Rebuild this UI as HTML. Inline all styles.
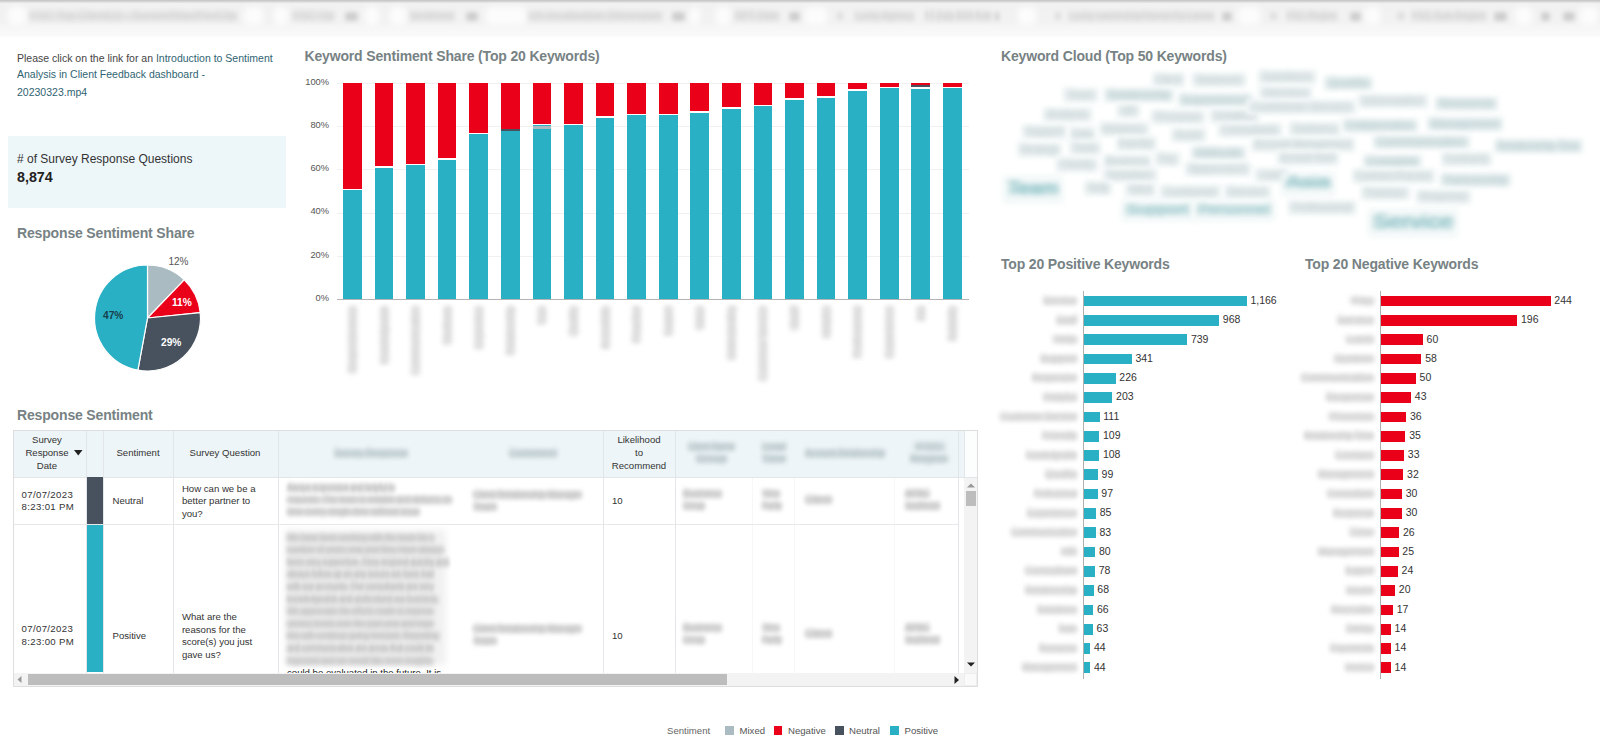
<!DOCTYPE html>
<html><head><meta charset="utf-8"><title>Sentiment Analysis Dashboard</title>
<style>
*{box-sizing:border-box;margin:0;padding:0}
html,body{width:1600px;height:744px;overflow:hidden;background:#fff;font-family:"Liberation Sans",sans-serif;color:#333}
.ab{position:absolute}
.t{position:absolute;white-space:nowrap;line-height:1}
.title{position:absolute;white-space:nowrap;font-weight:bold;font-size:14px;letter-spacing:-0.16px;color:#778284;line-height:1}
</style></head><body>

<div class="ab" style="left:0;top:0;width:1600px;height:36px;background:linear-gradient(#f1f1f1 0,#f2f2f2 22px,#f6f6f6 27px,#f8f8f8 31px,#f9f9f9 36px)"></div>
<div class="ab" style="left:0;top:0;width:1600px;height:3px;background:linear-gradient(#c2c2c2,#e9e9e9)"></div>
<div class="ab" style="left:0;top:36px;width:1600px;height:2px;background:linear-gradient(#fcfcfc,#fff)"></div>
<div class="ab" style="left:8px;top:7px;width:18px;height:18px;background:#fcfcfc;border-radius:4px;filter:blur(3px)"></div>
<div class="ab" style="left:244px;top:7px;width:19px;height:18px;background:#fcfcfc;border-radius:4px;filter:blur(3px)"></div>
<div class="ab" style="left:274px;top:7px;width:14px;height:18px;background:#fcfcfc;border-radius:4px;filter:blur(3px)"></div>
<div class="ab" style="left:365px;top:7px;width:14px;height:18px;background:#fcfcfc;border-radius:4px;filter:blur(3px)"></div>
<div class="ab" style="left:390px;top:7px;width:16px;height:18px;background:#fcfcfc;border-radius:4px;filter:blur(3px)"></div>
<div class="ab" style="left:486px;top:7px;width:40px;height:18px;background:#fcfcfc;border-radius:4px;filter:blur(3px)"></div>
<div class="ab" style="left:690px;top:7px;width:10px;height:18px;background:#fcfcfc;border-radius:4px;filter:blur(3px)"></div>
<div class="ab" style="left:716px;top:7px;width:14px;height:18px;background:#fcfcfc;border-radius:4px;filter:blur(3px)"></div>
<div class="ab" style="left:805px;top:7px;width:22px;height:18px;background:#fcfcfc;border-radius:4px;filter:blur(3px)"></div>
<div class="ab" style="left:1018px;top:7px;width:18px;height:18px;background:#fcfcfc;border-radius:4px;filter:blur(3px)"></div>
<div class="ab" style="left:1238px;top:7px;width:22px;height:18px;background:#fcfcfc;border-radius:4px;filter:blur(3px)"></div>
<div class="ab" style="left:1365px;top:7px;width:15px;height:18px;background:#fcfcfc;border-radius:4px;filter:blur(3px)"></div>
<div class="ab" style="left:1515px;top:7px;width:17px;height:18px;background:#fcfcfc;border-radius:4px;filter:blur(3px)"></div>
<div class="ab" style="left:1580px;top:7px;width:18px;height:18px;background:#fcfcfc;border-radius:4px;filter:blur(3px)"></div>
<div class="ab" style="left:30.0px;top:12.0px;width:207.0px;height:9px;background:#e5e5e5;border-radius:3px;filter:blur(2.2px)"></div>
<div class="t" style="left:30.0px;top:10.4px;font-size:11px;color:#cdcdcd;filter:blur(2.4px);transform:scaleX(1.059);transform-origin:0 0">FSC Top Client(s) - Sunset/Max/Pin/Clip</div>
<div class="ab" style="left:293.0px;top:12.0px;width:41.0px;height:9px;background:#e5e5e5;border-radius:3px;filter:blur(2.2px)"></div>
<div class="t" style="left:293.0px;top:10.4px;font-size:11px;color:#cdcdcd;filter:blur(2.4px);transform:scaleX(1.032);transform-origin:0 0">FSC Op</div>
<div class="ab" style="left:410.0px;top:12.0px;width:44.0px;height:9px;background:#e5e5e5;border-radius:3px;filter:blur(2.2px)"></div>
<div class="t" style="left:410.0px;top:10.4px;font-size:11px;color:#cdcdcd;filter:blur(2.4px);transform:scaleX(0.888);transform-origin:0 0">Sentiment</div>
<div class="ab" style="left:529.0px;top:12.0px;width:133.0px;height:9px;background:#e5e5e5;border-radius:3px;filter:blur(2.2px)"></div>
<div class="t" style="left:529.0px;top:10.4px;font-size:11px;color:#cdcdcd;filter:blur(2.4px);transform:scaleX(1.046);transform-origin:0 0">Un-localisation Dimension</div>
<div class="ab" style="left:735.0px;top:12.0px;width:44.0px;height:9px;background:#e5e5e5;border-radius:3px;filter:blur(2.2px)"></div>
<div class="t" style="left:735.0px;top:10.4px;font-size:11px;color:#cdcdcd;filter:blur(2.4px);transform:scaleX(0.915);transform-origin:0 0">RPT Date</div>
<div class="ab" style="left:855.0px;top:12.0px;width:59.0px;height:9px;background:#e5e5e5;border-radius:3px;filter:blur(2.2px)"></div>
<div class="t" style="left:855.0px;top:10.4px;font-size:11px;color:#cdcdcd;filter:blur(2.4px);transform:scaleX(0.869);transform-origin:0 0">Lucky Agency</div>
<div class="ab" style="left:925.0px;top:12.0px;width:67.0px;height:9px;background:#e5e5e5;border-radius:3px;filter:blur(2.2px)"></div>
<div class="t" style="left:925.0px;top:10.4px;font-size:11px;color:#cdcdcd;filter:blur(2.4px);transform:scaleX(0.718);transform-origin:0 0">FT Daily BRR Rate</div>
<div class="ab" style="left:1069.0px;top:12.0px;width:145.0px;height:9px;background:#e5e5e5;border-radius:3px;filter:blur(2.2px)"></div>
<div class="t" style="left:1069.0px;top:10.4px;font-size:11px;color:#cdcdcd;filter:blur(2.4px);transform:scaleX(0.875);transform-origin:0 0">Lucky ownership/Hierarchy-Lanes</div>
<div class="ab" style="left:1287.0px;top:12.0px;width:50.0px;height:9px;background:#e5e5e5;border-radius:3px;filter:blur(2.2px)"></div>
<div class="t" style="left:1287.0px;top:10.4px;font-size:11px;color:#cdcdcd;filter:blur(2.4px);transform:scaleX(0.835);transform-origin:0 0">FSC Region</div>
<div class="ab" style="left:1412.0px;top:12.0px;width:74.0px;height:9px;background:#e5e5e5;border-radius:3px;filter:blur(2.2px)"></div>
<div class="t" style="left:1412.0px;top:10.4px;font-size:11px;color:#cdcdcd;filter:blur(2.4px);transform:scaleX(0.890);transform-origin:0 0">FSC Sub-Region</div>
<div class="ab" style="left:345px;top:11.5px;width:13px;height:9px;background:#cecece;border-radius:4px;filter:blur(2.2px)"></div>
<div class="ab" style="left:466px;top:11.5px;width:12px;height:9px;background:#cecece;border-radius:4px;filter:blur(2.2px)"></div>
<div class="ab" style="left:672px;top:11.5px;width:13px;height:9px;background:#cecece;border-radius:4px;filter:blur(2.2px)"></div>
<div class="ab" style="left:789px;top:11.5px;width:11px;height:9px;background:#cecece;border-radius:4px;filter:blur(2.2px)"></div>
<div class="ab" style="left:995px;top:11.5px;width:4px;height:9px;background:#cecece;border-radius:4px;filter:blur(2.2px)"></div>
<div class="ab" style="left:1222px;top:11.5px;width:10px;height:9px;background:#cecece;border-radius:4px;filter:blur(2.2px)"></div>
<div class="ab" style="left:1350px;top:11.5px;width:11px;height:9px;background:#cecece;border-radius:4px;filter:blur(2.2px)"></div>
<div class="ab" style="left:1494px;top:11.5px;width:13px;height:9px;background:#cecece;border-radius:4px;filter:blur(2.2px)"></div>
<div class="ab" style="left:1541px;top:11.5px;width:9px;height:9px;background:#cecece;border-radius:4px;filter:blur(2.2px)"></div>
<div class="ab" style="left:1563px;top:11.5px;width:12px;height:9px;background:#cecece;border-radius:4px;filter:blur(2.2px)"></div>
<div class="ab" style="left:837px;top:12px;width:6px;height:8px;background:#dedede;border-radius:4px;filter:blur(2px)"></div>
<div class="ab" style="left:1055px;top:12px;width:6px;height:8px;background:#dedede;border-radius:4px;filter:blur(2px)"></div>
<div class="ab" style="left:1270px;top:12px;width:7px;height:8px;background:#dedede;border-radius:4px;filter:blur(2px)"></div>
<div class="ab" style="left:1397px;top:12px;width:8px;height:8px;background:#dedede;border-radius:4px;filter:blur(2px)"></div>
<div class="t" style="left:17px;top:53.4px;font-size:10.5px;color:#444">Please click on the link for an <span style="color:#2f6472">Introduction to Sentiment</span></div>
<div class="t" style="left:17px;top:69.3px;font-size:10.5px;color:#2f6472">Analysis in Client Feedback dashboard -</div>
<div class="t" style="left:17px;top:86.6px;font-size:10.5px;color:#2f6472">20230323.mp4</div>
<div class="ab" style="left:8px;top:136px;width:278px;height:72px;background:#edf6f9"></div>
<div class="t" style="left:17px;top:152.5px;font-size:12px;color:#333"># of Survey Response Questions</div>
<div class="t" style="left:17px;top:169.5px;font-size:14.3px;font-weight:bold;color:#222">8,874</div>
<div class="title" style="left:17px;top:225.8px">Response Sentiment Share</div>
<svg class="ab" style="left:0;top:0" width="300" height="400" viewBox="0 0 300 400"><path d="M147.5,318 L147.50,265.00 A53,53 0 0 1 184.26,279.82 Z" fill="#aabcc1" stroke="#fff" stroke-width="1.2"/><path d="M147.5,318 L184.26,279.82 A53,53 0 0 1 200.23,312.68 Z" fill="#ea0019" stroke="#fff" stroke-width="1.2"/><path d="M147.5,318 L200.23,312.68 A53,53 0 0 1 137.90,370.12 Z" fill="#47525e" stroke="#fff" stroke-width="1.2"/><path d="M147.5,318 L137.90,370.12 A53,53 0 0 1 147.50,265.00 Z" fill="#2ab0c4" stroke="#fff" stroke-width="1.2"/></svg>
<div class="t" style="left:168.5px;top:257.2px;font-size:10px;color:#555">12%</div>
<div class="t" style="left:172px;top:298.4px;font-size:10.2px;color:#fff;font-weight:bold">11%</div>
<div class="t" style="left:103px;top:311px;font-size:10.2px;color:#173f4c;font-weight:bold">47%</div>
<div class="t" style="left:161px;top:338.2px;font-size:10.2px;color:#fff;font-weight:bold">29%</div>
<div class="title" style="left:304.5px;top:49px">Keyword Sentiment Share (Top 20 Keywords)</div>
<div class="t" style="left:289px;width:40px;text-align:right;top:293.8px;font-size:9.3px;color:#555">0%</div>
<div class="t" style="left:289px;width:40px;text-align:right;top:250.6px;font-size:9.3px;color:#555">20%</div>
<div class="ab" style="left:337px;top:255.8px;width:632px;height:1px;background:#f0f0f0"></div>
<div class="t" style="left:289px;width:40px;text-align:right;top:207.4px;font-size:9.3px;color:#555">40%</div>
<div class="ab" style="left:337px;top:212.6px;width:632px;height:1px;background:#f0f0f0"></div>
<div class="t" style="left:289px;width:40px;text-align:right;top:164.2px;font-size:9.3px;color:#555">60%</div>
<div class="ab" style="left:337px;top:169.4px;width:632px;height:1px;background:#f0f0f0"></div>
<div class="t" style="left:289px;width:40px;text-align:right;top:121.0px;font-size:9.3px;color:#555">80%</div>
<div class="ab" style="left:337px;top:126.2px;width:632px;height:1px;background:#f0f0f0"></div>
<div class="t" style="left:289px;width:40px;text-align:right;top:77.8px;font-size:9.3px;color:#555">100%</div>
<div class="ab" style="left:337px;top:83.0px;width:632px;height:1px;background:#f0f0f0"></div>
<div class="ab" style="left:343.0px;top:83px;width:18.8px;height:105.8px;background:#ea0019"></div>
<div class="ab" style="left:343.0px;top:190.2px;width:18.8px;height:108.8px;background:#2ab0c4"></div>
<div class="ab" style="left:374.6px;top:83px;width:18.8px;height:83.3px;background:#ea0019"></div>
<div class="ab" style="left:374.6px;top:167.7px;width:18.8px;height:131.3px;background:#2ab0c4"></div>
<div class="ab" style="left:406.2px;top:83px;width:18.8px;height:81.0px;background:#ea0019"></div>
<div class="ab" style="left:406.2px;top:165.4px;width:18.8px;height:133.6px;background:#2ab0c4"></div>
<div class="ab" style="left:437.7px;top:83px;width:18.8px;height:75.3px;background:#ea0019"></div>
<div class="ab" style="left:437.7px;top:159.7px;width:18.8px;height:139.3px;background:#2ab0c4"></div>
<div class="ab" style="left:469.3px;top:83px;width:18.8px;height:49.8px;background:#ea0019"></div>
<div class="ab" style="left:469.3px;top:134.2px;width:18.8px;height:164.8px;background:#2ab0c4"></div>
<div class="ab" style="left:500.9px;top:83px;width:18.8px;height:45.8px;background:#ea0019"></div>
<div class="ab" style="left:500.9px;top:130.2px;width:18.8px;height:168.8px;background:#2ab0c4"></div>
<div class="ab" style="left:532.5px;top:83px;width:18.8px;height:41.0px;background:#ea0019"></div>
<div class="ab" style="left:532.5px;top:125.4px;width:18.8px;height:173.6px;background:#2ab0c4"></div>
<div class="ab" style="left:564.1px;top:83px;width:18.8px;height:40.8px;background:#ea0019"></div>
<div class="ab" style="left:564.1px;top:125.2px;width:18.8px;height:173.8px;background:#2ab0c4"></div>
<div class="ab" style="left:595.6px;top:83px;width:18.8px;height:33.3px;background:#ea0019"></div>
<div class="ab" style="left:595.6px;top:117.7px;width:18.8px;height:181.3px;background:#2ab0c4"></div>
<div class="ab" style="left:627.2px;top:83px;width:18.8px;height:30.8px;background:#ea0019"></div>
<div class="ab" style="left:627.2px;top:115.2px;width:18.8px;height:183.8px;background:#2ab0c4"></div>
<div class="ab" style="left:658.8px;top:83px;width:18.8px;height:30.7px;background:#ea0019"></div>
<div class="ab" style="left:658.8px;top:115.1px;width:18.8px;height:183.9px;background:#2ab0c4"></div>
<div class="ab" style="left:690.4px;top:83px;width:18.8px;height:28.1px;background:#ea0019"></div>
<div class="ab" style="left:690.4px;top:112.5px;width:18.8px;height:186.5px;background:#2ab0c4"></div>
<div class="ab" style="left:722.0px;top:83px;width:18.8px;height:24.2px;background:#ea0019"></div>
<div class="ab" style="left:722.0px;top:108.6px;width:18.8px;height:190.4px;background:#2ab0c4"></div>
<div class="ab" style="left:753.5px;top:83px;width:18.8px;height:21.6px;background:#ea0019"></div>
<div class="ab" style="left:753.5px;top:106.0px;width:18.8px;height:193.0px;background:#2ab0c4"></div>
<div class="ab" style="left:785.1px;top:83px;width:18.8px;height:15.1px;background:#ea0019"></div>
<div class="ab" style="left:785.1px;top:99.5px;width:18.8px;height:199.5px;background:#2ab0c4"></div>
<div class="ab" style="left:816.7px;top:83px;width:18.8px;height:13.3px;background:#ea0019"></div>
<div class="ab" style="left:816.7px;top:97.7px;width:18.8px;height:201.3px;background:#2ab0c4"></div>
<div class="ab" style="left:848.3px;top:83px;width:18.8px;height:6.3px;background:#ea0019"></div>
<div class="ab" style="left:848.3px;top:90.7px;width:18.8px;height:208.3px;background:#2ab0c4"></div>
<div class="ab" style="left:879.9px;top:83px;width:18.8px;height:3.5px;background:#ea0019"></div>
<div class="ab" style="left:879.9px;top:87.9px;width:18.8px;height:211.1px;background:#2ab0c4"></div>
<div class="ab" style="left:911.4px;top:83px;width:18.8px;height:4.3px;background:#ea0019"></div>
<div class="ab" style="left:911.4px;top:88.7px;width:18.8px;height:210.3px;background:#2ab0c4"></div>
<div class="ab" style="left:943.0px;top:83px;width:18.8px;height:3.5px;background:#ea0019"></div>
<div class="ab" style="left:943.0px;top:87.9px;width:18.8px;height:211.1px;background:#2ab0c4"></div>
<div class="ab" style="left:532.5px;top:125.6px;width:18.8px;height:3px;background:#aabcc1"></div>
<div class="ab" style="left:911.4px;top:85.2px;width:18.8px;height:2.2px;background:#47525e"></div>
<div class="ab" style="left:500.9px;top:129.4px;width:18.8px;height:1.3px;background:#47525e"></div>
<div class="ab" style="left:337px;top:298.5px;width:632px;height:1px;background:#b4b4b4"></div>
<div class="ab" style="left:347.9px;top:306px;width:9px;height:67px;background:#e7e7e7;border-radius:3px;filter:blur(2.6px)"></div>
<div class="t" style="left:347.1px;top:373.0px;font-size:10.5px;color:#cbcbcb;filter:blur(2.8px);transform-origin:0 0;transform:rotate(-90deg) scaleX(0.870)">Responsiveness</div>
<div class="ab" style="left:379.5px;top:306px;width:9px;height:58px;background:#e7e7e7;border-radius:3px;filter:blur(2.6px)"></div>
<div class="t" style="left:378.7px;top:364.0px;font-size:10.5px;color:#cbcbcb;filter:blur(2.8px);transform-origin:0 0;transform:rotate(-90deg) scaleX(0.808)">Knowledgeable</div>
<div class="ab" style="left:411.1px;top:306px;width:9px;height:69px;background:#e7e7e7;border-radius:3px;filter:blur(2.6px)"></div>
<div class="t" style="left:410.3px;top:375.0px;font-size:10.5px;color:#cbcbcb;filter:blur(2.8px);transform-origin:0 0;transform:rotate(-90deg) scaleX(0.946)">Communication</div>
<div class="ab" style="left:442.6px;top:306px;width:9px;height:39px;background:#e7e7e7;border-radius:3px;filter:blur(2.6px)"></div>
<div class="t" style="left:441.9px;top:345.0px;font-size:10.5px;color:#cbcbcb;filter:blur(2.8px);transform-origin:0 0;transform:rotate(-90deg) scaleX(0.783)">Timeliness</div>
<div class="ab" style="left:474.2px;top:306px;width:9px;height:43px;background:#e7e7e7;border-radius:3px;filter:blur(2.6px)"></div>
<div class="t" style="left:473.5px;top:349.0px;font-size:10.5px;color:#cbcbcb;filter:blur(2.8px);transform-origin:0 0;transform:rotate(-90deg) scaleX(0.982)">Expertise</div>
<div class="ab" style="left:505.8px;top:306px;width:9px;height:49px;background:#e7e7e7;border-radius:3px;filter:blur(2.6px)"></div>
<div class="t" style="left:505.0px;top:355.0px;font-size:10.5px;color:#cbcbcb;filter:blur(2.8px);transform-origin:0 0;transform:rotate(-90deg) scaleX(0.848)">Relationship</div>
<div class="ab" style="left:537.4px;top:306px;width:9px;height:19px;background:#e7e7e7;border-radius:3px;filter:blur(2.6px)"></div>
<div class="t" style="left:536.6px;top:325.0px;font-size:10.5px;color:#cbcbcb;filter:blur(2.8px);transform-origin:0 0;transform:rotate(-90deg) scaleX(0.740)">Team</div>
<div class="ab" style="left:569.0px;top:306px;width:9px;height:30px;background:#e7e7e7;border-radius:3px;filter:blur(2.6px)"></div>
<div class="t" style="left:568.2px;top:336.0px;font-size:10.5px;color:#cbcbcb;filter:blur(2.8px);transform-origin:0 0;transform:rotate(-90deg) scaleX(0.918)">Quality</div>
<div class="ab" style="left:600.5px;top:306px;width:9px;height:43px;background:#e7e7e7;border-radius:3px;filter:blur(2.6px)"></div>
<div class="t" style="left:599.8px;top:349.0px;font-size:10.5px;color:#cbcbcb;filter:blur(2.8px);transform-origin:0 0;transform:rotate(-90deg) scaleX(0.752)">Accessibility</div>
<div class="ab" style="left:632.1px;top:306px;width:9px;height:37px;background:#e7e7e7;border-radius:3px;filter:blur(2.6px)"></div>
<div class="t" style="left:631.4px;top:343.0px;font-size:10.5px;color:#cbcbcb;filter:blur(2.8px);transform-origin:0 0;transform:rotate(-90deg) scaleX(0.845)">Proactive</div>
<div class="ab" style="left:663.7px;top:306px;width:9px;height:30px;background:#e7e7e7;border-radius:3px;filter:blur(2.6px)"></div>
<div class="t" style="left:662.9px;top:336.0px;font-size:10.5px;color:#cbcbcb;filter:blur(2.8px);transform-origin:0 0;transform:rotate(-90deg) scaleX(0.816)">Support</div>
<div class="ab" style="left:695.3px;top:306px;width:9px;height:24px;background:#e7e7e7;border-radius:3px;filter:blur(2.6px)"></div>
<div class="t" style="left:694.5px;top:330.0px;font-size:10.5px;color:#cbcbcb;filter:blur(2.8px);transform-origin:0 0;transform:rotate(-90deg) scaleX(0.920)">Value</div>
<div class="ab" style="left:726.9px;top:306px;width:9px;height:54px;background:#e7e7e7;border-radius:3px;filter:blur(2.6px)"></div>
<div class="t" style="left:726.1px;top:360.0px;font-size:10.5px;color:#cbcbcb;filter:blur(2.8px);transform-origin:0 0;transform:rotate(-90deg) scaleX(0.791)">Understanding</div>
<div class="ab" style="left:758.4px;top:306px;width:9px;height:75px;background:#e7e7e7;border-radius:3px;filter:blur(2.6px)"></div>
<div class="t" style="left:757.7px;top:381.0px;font-size:10.5px;color:#cbcbcb;filter:blur(2.8px);transform-origin:0 0;transform:rotate(-90deg) scaleX(0.899)">Customer Service</div>
<div class="ab" style="left:790.0px;top:306px;width:9px;height:24px;background:#e7e7e7;border-radius:3px;filter:blur(2.6px)"></div>
<div class="t" style="left:789.3px;top:330.0px;font-size:10.5px;color:#cbcbcb;filter:blur(2.8px);transform-origin:0 0;transform:rotate(-90deg) scaleX(1.121)">Staff</div>
<div class="ab" style="left:821.6px;top:306px;width:9px;height:32px;background:#e7e7e7;border-radius:3px;filter:blur(2.6px)"></div>
<div class="t" style="left:820.9px;top:338.0px;font-size:10.5px;color:#cbcbcb;filter:blur(2.8px);transform-origin:0 0;transform:rotate(-90deg) scaleX(0.979)">Helpful</div>
<div class="ab" style="left:853.2px;top:306px;width:9px;height:52px;background:#e7e7e7;border-radius:3px;filter:blur(2.6px)"></div>
<div class="t" style="left:852.4px;top:358.0px;font-size:10.5px;color:#cbcbcb;filter:blur(2.8px);transform-origin:0 0;transform:rotate(-90deg) scaleX(0.900)">Professional</div>
<div class="ab" style="left:884.8px;top:306px;width:9px;height:52px;background:#e7e7e7;border-radius:3px;filter:blur(2.6px)"></div>
<div class="t" style="left:884.0px;top:358.0px;font-size:10.5px;color:#cbcbcb;filter:blur(2.8px);transform-origin:0 0;transform:rotate(-90deg) scaleX(0.990)">Experience</div>
<div class="ab" style="left:916.3px;top:306px;width:9px;height:15px;background:#e7e7e7;border-radius:3px;filter:blur(2.6px)"></div>
<div class="t" style="left:915.6px;top:321.0px;font-size:10.5px;color:#cbcbcb;filter:blur(2.8px);transform-origin:0 0;transform:rotate(-90deg) scaleX(0.734)">Asia</div>
<div class="ab" style="left:947.9px;top:306px;width:9px;height:35px;background:#e7e7e7;border-radius:3px;filter:blur(2.6px)"></div>
<div class="t" style="left:947.2px;top:341.0px;font-size:10.5px;color:#cbcbcb;filter:blur(2.8px);transform-origin:0 0;transform:rotate(-90deg) scaleX(0.779)">Reliability</div>
<div class="title" style="left:1001px;top:49px">Keyword Cloud (Top 50 Keywords)</div>
<div class="ab" style="left:1151px;top:71.5px;width:35px;height:16px;background:#f4f8f8;filter:blur(2.5px)"></div>
<div class="ab" style="left:1155.0px;top:75.0px;width:27.0px;height:9px;background:#e4ebec;border-radius:3px;filter:blur(2.4px)"></div>
<div class="t" style="left:1155.0px;top:73.5px;font-size:11px;color:#bccbcd;filter:blur(3.0px);transform:scaleX(0.960);transform-origin:0 0">Client</div>
<div class="ab" style="left:1191px;top:72.0px;width:56px;height:16px;background:#f4f8f8;filter:blur(2.5px)"></div>
<div class="ab" style="left:1195.0px;top:75.5px;width:48.0px;height:9px;background:#e4ebec;border-radius:3px;filter:blur(2.4px)"></div>
<div class="t" style="left:1195.0px;top:74.0px;font-size:11px;color:#bccbcd;filter:blur(3.0px);transform:scaleX(1.190);transform-origin:0 0">Network</div>
<div class="ab" style="left:1257px;top:69.0px;width:60px;height:16px;background:#f4f8f8;filter:blur(2.5px)"></div>
<div class="ab" style="left:1261.0px;top:72.5px;width:52.0px;height:9px;background:#e4ebec;border-radius:3px;filter:blur(2.4px)"></div>
<div class="t" style="left:1261.0px;top:71.0px;font-size:11px;color:#bccbcd;filter:blur(3.0px);transform:scaleX(1.149);transform-origin:0 0">Solutions</div>
<div class="ab" style="left:1323px;top:75.0px;width:51px;height:16px;background:#f4f8f8;filter:blur(2.5px)"></div>
<div class="ab" style="left:1327.0px;top:78.5px;width:43.0px;height:9px;background:#dce7e9;border-radius:3px;filter:blur(2.4px)"></div>
<div class="t" style="left:1327.0px;top:77.0px;font-size:11px;color:#afc6c9;filter:blur(3.0px);transform:scaleX(1.256);transform-origin:0 0">Quality</div>
<div class="ab" style="left:1062px;top:87.0px;width:37px;height:16px;background:#f4f8f8;filter:blur(2.5px)"></div>
<div class="ab" style="left:1066.0px;top:90.5px;width:29.0px;height:9px;background:#e4ebec;border-radius:3px;filter:blur(2.4px)"></div>
<div class="t" style="left:1066.0px;top:89.0px;font-size:11px;color:#bccbcd;filter:blur(3.0px);transform:scaleX(1.078);transform-origin:0 0">Team</div>
<div class="ab" style="left:1103px;top:87.0px;width:72px;height:16px;background:#f4f8f8;filter:blur(2.5px)"></div>
<div class="ab" style="left:1107.0px;top:90.5px;width:64.0px;height:9px;background:#dce7e9;border-radius:3px;filter:blur(2.4px)"></div>
<div class="t" style="left:1107.0px;top:89.0px;font-size:11px;color:#afc6c9;filter:blur(3.0px);transform:scaleX(1.057);transform-origin:0 0">Relationship</div>
<div class="ab" style="left:1177px;top:92.0px;width:77px;height:16px;background:#f4f8f8;filter:blur(2.5px)"></div>
<div class="ab" style="left:1181.0px;top:95.5px;width:69.0px;height:9px;background:#dce7e9;border-radius:3px;filter:blur(2.4px)"></div>
<div class="t" style="left:1181.0px;top:94.0px;font-size:11px;color:#afc6c9;filter:blur(3.0px);transform:scaleX(1.254);transform-origin:0 0">Experience</div>
<div class="ab" style="left:1258px;top:85.0px;width:55px;height:16px;background:#f4f8f8;filter:blur(2.5px)"></div>
<div class="ab" style="left:1262.0px;top:88.5px;width:47.0px;height:9px;background:#e4ebec;border-radius:3px;filter:blur(2.4px)"></div>
<div class="t" style="left:1262.0px;top:87.0px;font-size:11px;color:#bccbcd;filter:blur(3.0px);transform:scaleX(1.281);transform-origin:0 0">Service</div>
<div class="ab" style="left:1042px;top:106.6px;width:51px;height:16px;background:#f4f8f8;filter:blur(2.5px)"></div>
<div class="ab" style="left:1046.0px;top:110.1px;width:43.0px;height:9px;background:#e4ebec;border-radius:3px;filter:blur(2.4px)"></div>
<div class="t" style="left:1046.0px;top:108.5px;font-size:11px;color:#bccbcd;filter:blur(3.0px);transform:scaleX(1.050);transform-origin:0 0">Analysis</div>
<div class="ab" style="left:1116px;top:103.0px;width:25px;height:16px;background:#f4f8f8;filter:blur(2.5px)"></div>
<div class="ab" style="left:1120.0px;top:106.5px;width:17.0px;height:9px;background:#e4ebec;border-radius:3px;filter:blur(2.4px)"></div>
<div class="t" style="left:1120.0px;top:105.0px;font-size:11px;color:#bccbcd;filter:blur(3.0px);transform:scaleX(1.070);transform-origin:0 0">HR</div>
<div class="ab" style="left:1150px;top:109.0px;width:56px;height:16px;background:#f4f8f8;filter:blur(2.5px)"></div>
<div class="ab" style="left:1154.0px;top:112.5px;width:48.0px;height:9px;background:#e4ebec;border-radius:3px;filter:blur(2.4px)"></div>
<div class="t" style="left:1154.0px;top:111.0px;font-size:11px;color:#bccbcd;filter:blur(3.0px);transform:scaleX(1.208);transform-origin:0 0">Process</div>
<div class="ab" style="left:1209px;top:108.0px;width:51px;height:16px;background:#f4f8f8;filter:blur(2.5px)"></div>
<div class="ab" style="left:1213.0px;top:111.5px;width:43.0px;height:9px;background:#e4ebec;border-radius:3px;filter:blur(2.4px)"></div>
<div class="t" style="left:1213.0px;top:110.0px;font-size:11px;color:#bccbcd;filter:blur(3.0px);transform:scaleX(1.134);transform-origin:0 0">Insights</div>
<div class="ab" style="left:1246px;top:99.0px;width:111px;height:16px;background:#f4f8f8;filter:blur(2.5px)"></div>
<div class="ab" style="left:1250.0px;top:102.5px;width:103.0px;height:9px;background:#e4ebec;border-radius:3px;filter:blur(2.4px)"></div>
<div class="t" style="left:1250.0px;top:101.0px;font-size:11px;color:#bccbcd;filter:blur(3.0px);transform:scaleX(1.178);transform-origin:0 0">Customer Service</div>
<div class="ab" style="left:1357px;top:93.0px;width:72px;height:16px;background:#f4f8f8;filter:blur(2.5px)"></div>
<div class="ab" style="left:1361.0px;top:96.5px;width:64.0px;height:9px;background:#e4ebec;border-radius:3px;filter:blur(2.4px)"></div>
<div class="t" style="left:1361.0px;top:95.0px;font-size:11px;color:#bccbcd;filter:blur(3.0px);transform:scaleX(1.163);transform-origin:0 0">Information</div>
<div class="ab" style="left:1434px;top:95.7px;width:65px;height:16px;background:#f4f8f8;filter:blur(2.5px)"></div>
<div class="ab" style="left:1438.0px;top:99.2px;width:57.0px;height:9px;background:#dce7e9;border-radius:3px;filter:blur(2.4px)"></div>
<div class="t" style="left:1438.0px;top:97.7px;font-size:11px;color:#afc6c9;filter:blur(3.0px);transform:scaleX(1.084);transform-origin:0 0">Resources</div>
<div class="ab" style="left:1021px;top:123.5px;width:47px;height:16px;background:#f4f8f8;filter:blur(2.5px)"></div>
<div class="ab" style="left:1025.0px;top:127.0px;width:39.0px;height:9px;background:#e4ebec;border-radius:3px;filter:blur(2.4px)"></div>
<div class="t" style="left:1025.0px;top:125.5px;font-size:11px;color:#bccbcd;filter:blur(3.0px);transform:scaleX(1.012);transform-origin:0 0">Support</div>
<div class="ab" style="left:1068px;top:126.0px;width:29px;height:16px;background:#f4f8f8;filter:blur(2.5px)"></div>
<div class="ab" style="left:1072.0px;top:129.5px;width:21.0px;height:9px;background:#e4ebec;border-radius:3px;filter:blur(2.4px)"></div>
<div class="t" style="left:1072.0px;top:128.0px;font-size:11px;color:#bccbcd;filter:blur(3.0px);transform:scaleX(0.904);transform-origin:0 0">Data</div>
<div class="ab" style="left:1098px;top:121.0px;width:52px;height:16px;background:#f4f8f8;filter:blur(2.5px)"></div>
<div class="ab" style="left:1102.0px;top:124.5px;width:44.0px;height:9px;background:#e4ebec;border-radius:3px;filter:blur(2.4px)"></div>
<div class="t" style="left:1102.0px;top:123.0px;font-size:11px;color:#bccbcd;filter:blur(3.0px);transform:scaleX(1.043);transform-origin:0 0">Advisory</div>
<div class="ab" style="left:1170px;top:127.0px;width:37px;height:16px;background:#f4f8f8;filter:blur(2.5px)"></div>
<div class="ab" style="left:1174.0px;top:130.5px;width:29.0px;height:9px;background:#e4ebec;border-radius:3px;filter:blur(2.4px)"></div>
<div class="t" style="left:1174.0px;top:128.9px;font-size:11px;color:#bccbcd;filter:blur(3.0px);transform:scaleX(0.989);transform-origin:0 0">Assist</div>
<div class="ab" style="left:1217px;top:122.3px;width:66px;height:16px;background:#f4f8f8;filter:blur(2.5px)"></div>
<div class="ab" style="left:1221.0px;top:125.8px;width:58.0px;height:9px;background:#e4ebec;border-radius:3px;filter:blur(2.4px)"></div>
<div class="t" style="left:1221.0px;top:124.3px;font-size:11px;color:#bccbcd;filter:blur(3.0px);transform:scaleX(0.999);transform-origin:0 0">Consultants</div>
<div class="ab" style="left:1288px;top:121.0px;width:54px;height:16px;background:#f4f8f8;filter:blur(2.5px)"></div>
<div class="ab" style="left:1292.0px;top:124.5px;width:46.0px;height:9px;background:#e4ebec;border-radius:3px;filter:blur(2.4px)"></div>
<div class="t" style="left:1292.0px;top:123.0px;font-size:11px;color:#bccbcd;filter:blur(3.0px);transform:scaleX(1.158);transform-origin:0 0">Delivery</div>
<div class="ab" style="left:1341px;top:117.5px;width:78px;height:16px;background:#f4f8f8;filter:blur(2.5px)"></div>
<div class="ab" style="left:1345.0px;top:121.0px;width:70.0px;height:9px;background:#dce7e9;border-radius:3px;filter:blur(2.4px)"></div>
<div class="t" style="left:1345.0px;top:119.5px;font-size:11px;color:#afc6c9;filter:blur(3.0px);transform:scaleX(1.080);transform-origin:0 0">Collaboration</div>
<div class="ab" style="left:1426px;top:116.3px;width:78px;height:16px;background:#f4f8f8;filter:blur(2.5px)"></div>
<div class="ab" style="left:1430.0px;top:119.8px;width:70.0px;height:9px;background:#dce7e9;border-radius:3px;filter:blur(2.4px)"></div>
<div class="t" style="left:1430.0px;top:118.2px;font-size:11px;color:#afc6c9;filter:blur(3.0px);transform:scaleX(1.090);transform-origin:0 0">Management</div>
<div class="ab" style="left:1016px;top:141.7px;width:47px;height:16px;background:#f4f8f8;filter:blur(2.5px)"></div>
<div class="ab" style="left:1020.0px;top:145.2px;width:39.0px;height:9px;background:#e4ebec;border-radius:3px;filter:blur(2.4px)"></div>
<div class="t" style="left:1020.0px;top:143.6px;font-size:11px;color:#bccbcd;filter:blur(3.0px);transform:scaleX(0.952);transform-origin:0 0">Strategy</div>
<div class="ab" style="left:1068px;top:140.0px;width:34px;height:16px;background:#f4f8f8;filter:blur(2.5px)"></div>
<div class="ab" style="left:1072.0px;top:143.5px;width:26.0px;height:9px;background:#e4ebec;border-radius:3px;filter:blur(2.4px)"></div>
<div class="t" style="left:1072.0px;top:141.9px;font-size:11px;color:#bccbcd;filter:blur(3.0px);transform:scaleX(1.013);transform-origin:0 0">Tools</div>
<div class="ab" style="left:1115px;top:135.6px;width:43px;height:16px;background:#f4f8f8;filter:blur(2.5px)"></div>
<div class="ab" style="left:1119.0px;top:139.1px;width:35.0px;height:9px;background:#e4ebec;border-radius:3px;filter:blur(2.4px)"></div>
<div class="t" style="left:1119.0px;top:137.5px;font-size:11px;color:#bccbcd;filter:blur(3.0px);transform:scaleX(0.763);transform-origin:0 0">Expertise</div>
<div class="ab" style="left:1190px;top:145.3px;width:57px;height:16px;background:#f4f8f8;filter:blur(2.5px)"></div>
<div class="ab" style="left:1194.0px;top:148.8px;width:49.0px;height:9px;background:#dce7e9;border-radius:3px;filter:blur(2.4px)"></div>
<div class="t" style="left:1194.0px;top:147.2px;font-size:11px;color:#afc6c9;filter:blur(3.0px);transform:scaleX(1.314);transform-origin:0 0">Attitude</div>
<div class="ab" style="left:1250px;top:136.8px;width:106px;height:16px;background:#f4f8f8;filter:blur(2.5px)"></div>
<div class="ab" style="left:1254.0px;top:140.3px;width:98.0px;height:9px;background:#e4ebec;border-radius:3px;filter:blur(2.4px)"></div>
<div class="t" style="left:1254.0px;top:138.8px;font-size:11px;color:#bccbcd;filter:blur(3.0px);transform:scaleX(0.916);transform-origin:0 0">Account Management</div>
<div class="ab" style="left:1372px;top:134.4px;width:99px;height:16px;background:#f4f8f8;filter:blur(2.5px)"></div>
<div class="ab" style="left:1376.0px;top:137.9px;width:91.0px;height:9px;background:#dce7e9;border-radius:3px;filter:blur(2.4px)"></div>
<div class="t" style="left:1376.0px;top:136.3px;font-size:11px;color:#afc6c9;filter:blur(3.0px);transform:scaleX(1.191);transform-origin:0 0">Communication</div>
<div class="ab" style="left:1493px;top:138.0px;width:91px;height:16px;background:#f4f8f8;filter:blur(2.5px)"></div>
<div class="ab" style="left:1497.0px;top:141.5px;width:83.0px;height:9px;background:#dce7e9;border-radius:3px;filter:blur(2.4px)"></div>
<div class="t" style="left:1497.0px;top:139.9px;font-size:11px;color:#afc6c9;filter:blur(3.0px);transform:scaleX(0.949);transform-origin:0 0">Relationship Time</div>
<div class="ab" style="left:1055px;top:156.7px;width:44px;height:16px;background:#f4f8f8;filter:blur(2.5px)"></div>
<div class="ab" style="left:1059.0px;top:160.2px;width:36.0px;height:9px;background:#e4ebec;border-radius:3px;filter:blur(2.4px)"></div>
<div class="t" style="left:1059.0px;top:158.6px;font-size:11px;color:#bccbcd;filter:blur(3.0px);transform:scaleX(1.155);transform-origin:0 0">Clarity</div>
<div class="ab" style="left:1102px;top:153.8px;width:51px;height:16px;background:#f4f8f8;filter:blur(2.5px)"></div>
<div class="ab" style="left:1106.0px;top:157.3px;width:43.0px;height:9px;background:#e4ebec;border-radius:3px;filter:blur(2.4px)"></div>
<div class="t" style="left:1106.0px;top:155.8px;font-size:11px;color:#bccbcd;filter:blur(3.0px);transform:scaleX(0.963);transform-origin:0 0">Business</div>
<div class="ab" style="left:1154px;top:151.4px;width:27px;height:16px;background:#f4f8f8;filter:blur(2.5px)"></div>
<div class="ab" style="left:1158.0px;top:154.9px;width:19.0px;height:9px;background:#e4ebec;border-radius:3px;filter:blur(2.4px)"></div>
<div class="t" style="left:1158.0px;top:153.3px;font-size:11px;color:#bccbcd;filter:blur(3.0px);transform:scaleX(1.002);transform-origin:0 0">Pay</div>
<div class="ab" style="left:1184px;top:161.0px;width:68px;height:16px;background:#f4f8f8;filter:blur(2.5px)"></div>
<div class="ab" style="left:1188.0px;top:164.5px;width:60.0px;height:9px;background:#e4ebec;border-radius:3px;filter:blur(2.4px)"></div>
<div class="t" style="left:1188.0px;top:162.9px;font-size:11px;color:#bccbcd;filter:blur(3.0px);transform:scaleX(1.274);transform-origin:0 0">Approach</div>
<div class="ab" style="left:1276px;top:150.0px;width:64px;height:16px;background:#f4f8f8;filter:blur(2.5px)"></div>
<div class="ab" style="left:1280.0px;top:153.5px;width:56.0px;height:9px;background:#e4ebec;border-radius:3px;filter:blur(2.4px)"></div>
<div class="t" style="left:1280.0px;top:151.9px;font-size:11px;color:#bccbcd;filter:blur(3.0px);transform:scaleX(0.806);transform-origin:0 0">Account Team</div>
<div class="ab" style="left:1362px;top:153.8px;width:61px;height:16px;background:#f4f8f8;filter:blur(2.5px)"></div>
<div class="ab" style="left:1366.0px;top:157.3px;width:53.0px;height:9px;background:#dce7e9;border-radius:3px;filter:blur(2.4px)"></div>
<div class="t" style="left:1366.0px;top:155.8px;font-size:11px;color:#afc6c9;filter:blur(3.0px);transform:scaleX(1.126);transform-origin:0 0">Complete</div>
<div class="ab" style="left:1440px;top:151.3px;width:53px;height:16px;background:#f4f8f8;filter:blur(2.5px)"></div>
<div class="ab" style="left:1444.0px;top:154.8px;width:45.0px;height:9px;background:#e4ebec;border-radius:3px;filter:blur(2.4px)"></div>
<div class="t" style="left:1444.0px;top:153.2px;font-size:11px;color:#bccbcd;filter:blur(3.0px);transform:scaleX(0.956);transform-origin:0 0">Contracts</div>
<div class="ab" style="left:1102px;top:167.0px;width:56px;height:16px;background:#f4f8f8;filter:blur(2.5px)"></div>
<div class="ab" style="left:1106.0px;top:170.5px;width:48.0px;height:9px;background:#e4ebec;border-radius:3px;filter:blur(2.4px)"></div>
<div class="t" style="left:1106.0px;top:168.9px;font-size:11px;color:#bccbcd;filter:blur(3.0px);transform:scaleX(1.208);transform-origin:0 0">Solution</div>
<div class="ab" style="left:1254px;top:167.0px;width:35px;height:16px;background:#f4f8f8;filter:blur(2.5px)"></div>
<div class="ab" style="left:1258.0px;top:170.5px;width:27.0px;height:9px;background:#e4ebec;border-radius:3px;filter:blur(2.4px)"></div>
<div class="t" style="left:1258.0px;top:168.9px;font-size:11px;color:#bccbcd;filter:blur(3.0px);transform:scaleX(1.103);transform-origin:0 0">Lead</div>
<div class="ab" style="left:1351px;top:168.3px;width:85px;height:16px;background:#f4f8f8;filter:blur(2.5px)"></div>
<div class="ab" style="left:1355.0px;top:171.8px;width:77.0px;height:9px;background:#e4ebec;border-radius:3px;filter:blur(2.4px)"></div>
<div class="t" style="left:1355.0px;top:170.2px;font-size:11px;color:#bccbcd;filter:blur(3.0px);transform:scaleX(0.913);transform-origin:0 0">Contract Process</div>
<div class="ab" style="left:1439px;top:172.0px;width:73px;height:16px;background:#f4f8f8;filter:blur(2.5px)"></div>
<div class="ab" style="left:1443.0px;top:175.5px;width:65.0px;height:9px;background:#dce7e9;border-radius:3px;filter:blur(2.4px)"></div>
<div class="t" style="left:1443.0px;top:173.9px;font-size:11px;color:#afc6c9;filter:blur(3.0px);transform:scaleX(1.156);transform-origin:0 0">Partnership</div>
<div class="ab" style="left:1083px;top:180.4px;width:30px;height:16px;background:#f4f8f8;filter:blur(2.5px)"></div>
<div class="ab" style="left:1087.0px;top:183.9px;width:22.0px;height:9px;background:#e4ebec;border-radius:3px;filter:blur(2.4px)"></div>
<div class="t" style="left:1087.0px;top:182.3px;font-size:11px;color:#bccbcd;filter:blur(3.0px);transform:scaleX(0.972);transform-origin:0 0">Help</div>
<div class="ab" style="left:1124px;top:181.6px;width:33px;height:16px;background:#f4f8f8;filter:blur(2.5px)"></div>
<div class="ab" style="left:1128.0px;top:185.1px;width:25.0px;height:9px;background:#e4ebec;border-radius:3px;filter:blur(2.4px)"></div>
<div class="t" style="left:1128.0px;top:183.5px;font-size:11px;color:#bccbcd;filter:blur(3.0px);transform:scaleX(0.915);transform-origin:0 0">Value</div>
<div class="ab" style="left:1159px;top:184.0px;width:63px;height:16px;background:#f4f8f8;filter:blur(2.5px)"></div>
<div class="ab" style="left:1163.0px;top:187.5px;width:55.0px;height:9px;background:#e4ebec;border-radius:3px;filter:blur(2.4px)"></div>
<div class="t" style="left:1163.0px;top:185.9px;font-size:11px;color:#bccbcd;filter:blur(3.0px);transform:scaleX(1.154);transform-origin:0 0">Customer</div>
<div class="ab" style="left:1223px;top:184.0px;width:49px;height:16px;background:#f4f8f8;filter:blur(2.5px)"></div>
<div class="ab" style="left:1227.0px;top:187.5px;width:41.0px;height:9px;background:#e4ebec;border-radius:3px;filter:blur(2.4px)"></div>
<div class="t" style="left:1227.0px;top:185.9px;font-size:11px;color:#bccbcd;filter:blur(3.0px);transform:scaleX(1.118);transform-origin:0 0">Service</div>
<div class="ab" style="left:1360px;top:185.2px;width:51px;height:16px;background:#f4f8f8;filter:blur(2.5px)"></div>
<div class="ab" style="left:1364.0px;top:188.7px;width:43.0px;height:9px;background:#e4ebec;border-radius:3px;filter:blur(2.4px)"></div>
<div class="t" style="left:1364.0px;top:187.1px;font-size:11px;color:#bccbcd;filter:blur(3.0px);transform:scaleX(1.192);transform-origin:0 0">Partner</div>
<div class="ab" style="left:1415px;top:188.8px;width:57px;height:16px;background:#f4f8f8;filter:blur(2.5px)"></div>
<div class="ab" style="left:1419.0px;top:192.3px;width:49.0px;height:9px;background:#e4ebec;border-radius:3px;filter:blur(2.4px)"></div>
<div class="t" style="left:1419.0px;top:190.8px;font-size:11px;color:#bccbcd;filter:blur(3.0px);transform:scaleX(0.989);transform-origin:0 0">Response</div>
<div class="ab" style="left:1287px;top:199.7px;width:70px;height:16px;background:#f4f8f8;filter:blur(2.5px)"></div>
<div class="ab" style="left:1291.0px;top:203.2px;width:62.0px;height:9px;background:#e4ebec;border-radius:3px;filter:blur(2.4px)"></div>
<div class="t" style="left:1291.0px;top:201.6px;font-size:11px;color:#bccbcd;filter:blur(3.0px);transform:scaleX(1.024);transform-origin:0 0">Professional</div>
<div class="ab" style="left:1003px;top:176.0px;width:60px;height:27.0px;background:#f1f7f7;filter:blur(3px)"></div>
<div class="ab" style="left:1008.0px;top:184.6px;width:50.0px;height:9.9px;background:#d6e9eb;border-radius:3px;filter:blur(2.5px)"></div>
<div class="t" style="left:1008.0px;top:179.1px;font-size:18.900000000000002px;color:#74b4ba;filter:blur(2.8px);transform:scaleX(1.082);transform-origin:0 0">Team</div>
<div class="ab" style="left:1281px;top:171.5px;width:54px;height:24.0px;background:#f1f7f7;filter:blur(3px)"></div>
<div class="ab" style="left:1286.0px;top:179.1px;width:44.0px;height:8.8px;background:#d6e9eb;border-radius:3px;filter:blur(2.5px)"></div>
<div class="t" style="left:1286.0px;top:174.3px;font-size:16.8px;color:#7cb6bc;filter:blur(2.8px);transform:scaleX(1.346);transform-origin:0 0">Asia</div>
<div class="ab" style="left:1121px;top:199.5px;width:73px;height:21.0px;background:#f1f7f7;filter:blur(3px)"></div>
<div class="ab" style="left:1126.0px;top:206.2px;width:63.0px;height:7.700000000000001px;background:#d6e9eb;border-radius:3px;filter:blur(2.5px)"></div>
<div class="t" style="left:1126.0px;top:201.9px;font-size:14.700000000000001px;color:#90bfc4;filter:blur(2.8px);transform:scaleX(1.224);transform-origin:0 0">Support</div>
<div class="ab" style="left:1193px;top:199.5px;width:82px;height:21.0px;background:#f1f7f7;filter:blur(3px)"></div>
<div class="ab" style="left:1198.0px;top:206.2px;width:72.0px;height:7.700000000000001px;background:#d6e9eb;border-radius:3px;filter:blur(2.5px)"></div>
<div class="t" style="left:1198.0px;top:201.9px;font-size:14.700000000000001px;color:#95c2c6;filter:blur(2.8px);transform:scaleX(1.088);transform-origin:0 0">Personnel</div>
<div class="ab" style="left:1368px;top:208.8px;width:90px;height:28.5px;background:#f1f7f7;filter:blur(3px)"></div>
<div class="ab" style="left:1373.0px;top:217.8px;width:80.0px;height:10.450000000000001px;background:#d6e9eb;border-radius:3px;filter:blur(2.5px)"></div>
<div class="t" style="left:1373.0px;top:212.0px;font-size:19.95px;color:#80b9bf;filter:blur(2.8px);transform:scaleX(1.203);transform-origin:0 0">Service</div>
<div class="title" style="left:1001px;top:256.8px">Top 20 Positive Keywords</div>
<div class="title" style="left:1305px;top:256.8px">Top 20 Negative Keywords</div>
<div class="ab" style="left:1083.3px;top:291px;width:1px;height:388px;background:#b0b0b0"></div>
<div class="ab" style="left:1084.1px;top:295.7px;width:162.6px;height:10.8px;background:#2ab0c4"></div>
<div class="t" style="left:1250.4px;top:294.9px;font-size:10.5px;color:#333">1,166</div>
<div class="ab" style="left:1043.0px;top:297.2px;width:34px;height:8px;background:#e6e6e6;border-radius:3px;filter:blur(2px)"></div>
<div class="t" style="left:1043.0px;top:295.7px;font-size:10px;color:#c2c2c2;filter:blur(2.6px);transform:scaleX(1.020);transform-origin:0 0">Service</div>
<div class="ab" style="left:1084.1px;top:315.0px;width:135.0px;height:10.8px;background:#2ab0c4"></div>
<div class="t" style="left:1222.8px;top:314.2px;font-size:10.5px;color:#333">968</div>
<div class="ab" style="left:1055.5px;top:316.5px;width:21.5px;height:8px;background:#e6e6e6;border-radius:3px;filter:blur(2px)"></div>
<div class="t" style="left:1055.5px;top:315.0px;font-size:10px;color:#c2c2c2;filter:blur(2.6px);transform:scaleX(1.055);transform-origin:0 0">Staff</div>
<div class="ab" style="left:1084.1px;top:334.3px;width:103.1px;height:10.8px;background:#2ab0c4"></div>
<div class="t" style="left:1190.9px;top:333.5px;font-size:10.5px;color:#333">739</div>
<div class="ab" style="left:1052.5px;top:335.8px;width:24.5px;height:8px;background:#e6e6e6;border-radius:3px;filter:blur(2px)"></div>
<div class="t" style="left:1052.5px;top:334.3px;font-size:10px;color:#c2c2c2;filter:blur(2.6px);transform:scaleX(1.191);transform-origin:0 0">Help</div>
<div class="ab" style="left:1084.1px;top:353.6px;width:47.6px;height:10.8px;background:#2ab0c4"></div>
<div class="t" style="left:1135.4px;top:352.8px;font-size:10.5px;color:#333">341</div>
<div class="ab" style="left:1039.5px;top:355.1px;width:37.5px;height:8px;background:#e6e6e6;border-radius:3px;filter:blur(2px)"></div>
<div class="t" style="left:1039.5px;top:353.6px;font-size:10px;color:#c2c2c2;filter:blur(2.6px);transform:scaleX(1.071);transform-origin:0 0">Support</div>
<div class="ab" style="left:1084.1px;top:372.9px;width:31.5px;height:10.8px;background:#2ab0c4"></div>
<div class="t" style="left:1119.3px;top:372.1px;font-size:10.5px;color:#333">226</div>
<div class="ab" style="left:1032.0px;top:374.4px;width:45px;height:8px;background:#e6e6e6;border-radius:3px;filter:blur(2px)"></div>
<div class="t" style="left:1032.0px;top:372.9px;font-size:10px;color:#c2c2c2;filter:blur(2.6px);transform:scaleX(0.861);transform-origin:0 0">Responsive</div>
<div class="ab" style="left:1084.1px;top:392.2px;width:28.3px;height:10.8px;background:#2ab0c4"></div>
<div class="t" style="left:1116.1px;top:391.4px;font-size:10.5px;color:#333">203</div>
<div class="ab" style="left:1043.0px;top:393.7px;width:34px;height:8px;background:#e6e6e6;border-radius:3px;filter:blur(2px)"></div>
<div class="t" style="left:1043.0px;top:392.2px;font-size:10px;color:#c2c2c2;filter:blur(2.6px);transform:scaleX(1.092);transform-origin:0 0">Helpful</div>
<div class="ab" style="left:1084.1px;top:411.5px;width:15.5px;height:10.8px;background:#2ab0c4"></div>
<div class="t" style="left:1103.3px;top:410.7px;font-size:10.5px;color:#333">111</div>
<div class="ab" style="left:999.5px;top:413.0px;width:77.5px;height:8px;background:#e6e6e6;border-radius:3px;filter:blur(2px)"></div>
<div class="t" style="left:999.5px;top:411.5px;font-size:10px;color:#c2c2c2;filter:blur(2.6px);transform:scaleX(0.975);transform-origin:0 0">Customer Service</div>
<div class="ab" style="left:1084.1px;top:430.8px;width:15.2px;height:10.8px;background:#2ab0c4"></div>
<div class="t" style="left:1103.0px;top:430.0px;font-size:10.5px;color:#333">109</div>
<div class="ab" style="left:1041.5px;top:432.3px;width:35.5px;height:8px;background:#e6e6e6;border-radius:3px;filter:blur(2px)"></div>
<div class="t" style="left:1041.5px;top:430.8px;font-size:10px;color:#c2c2c2;filter:blur(2.6px);transform:scaleX(0.998);transform-origin:0 0">Friendly</div>
<div class="ab" style="left:1084.1px;top:450.1px;width:15.1px;height:10.8px;background:#2ab0c4"></div>
<div class="t" style="left:1102.9px;top:449.3px;font-size:10.5px;color:#333">108</div>
<div class="ab" style="left:1026.0px;top:451.6px;width:51px;height:8px;background:#e6e6e6;border-radius:3px;filter:blur(2px)"></div>
<div class="t" style="left:1026.0px;top:450.1px;font-size:10px;color:#c2c2c2;filter:blur(2.6px);transform:scaleX(0.746);transform-origin:0 0">Knowledgeable</div>
<div class="ab" style="left:1084.1px;top:469.4px;width:13.8px;height:10.8px;background:#2ab0c4"></div>
<div class="t" style="left:1101.6px;top:468.6px;font-size:10.5px;color:#333">99</div>
<div class="ab" style="left:1044.5px;top:470.9px;width:32.5px;height:8px;background:#e6e6e6;border-radius:3px;filter:blur(2px)"></div>
<div class="t" style="left:1044.5px;top:469.4px;font-size:10px;color:#c2c2c2;filter:blur(2.6px);transform:scaleX(1.044);transform-origin:0 0">Quality</div>
<div class="ab" style="left:1084.1px;top:488.7px;width:13.5px;height:10.8px;background:#2ab0c4"></div>
<div class="t" style="left:1101.3px;top:487.9px;font-size:10.5px;color:#333">97</div>
<div class="ab" style="left:1034.0px;top:490.2px;width:43px;height:8px;background:#e6e6e6;border-radius:3px;filter:blur(2px)"></div>
<div class="t" style="left:1034.0px;top:488.7px;font-size:10px;color:#c2c2c2;filter:blur(2.6px);transform:scaleX(0.781);transform-origin:0 0">Professional</div>
<div class="ab" style="left:1084.1px;top:508.0px;width:11.9px;height:10.8px;background:#2ab0c4"></div>
<div class="t" style="left:1099.7px;top:507.2px;font-size:10.5px;color:#333">85</div>
<div class="ab" style="left:1027.0px;top:509.5px;width:50px;height:8px;background:#e6e6e6;border-radius:3px;filter:blur(2px)"></div>
<div class="t" style="left:1027.0px;top:508.0px;font-size:10px;color:#c2c2c2;filter:blur(2.6px);transform:scaleX(0.999);transform-origin:0 0">Experience</div>
<div class="ab" style="left:1084.1px;top:527.3px;width:11.6px;height:10.8px;background:#2ab0c4"></div>
<div class="t" style="left:1099.4px;top:526.5px;font-size:10.5px;color:#333">83</div>
<div class="ab" style="left:1010.5px;top:528.8px;width:66.5px;height:8px;background:#e6e6e6;border-radius:3px;filter:blur(2px)"></div>
<div class="t" style="left:1010.5px;top:527.3px;font-size:10px;color:#c2c2c2;filter:blur(2.6px);transform:scaleX(0.957);transform-origin:0 0">Communication</div>
<div class="ab" style="left:1084.1px;top:546.6px;width:11.2px;height:10.8px;background:#2ab0c4"></div>
<div class="t" style="left:1099.0px;top:545.8px;font-size:10.5px;color:#333">80</div>
<div class="ab" style="left:1061.0px;top:548.1px;width:16px;height:8px;background:#e6e6e6;border-radius:3px;filter:blur(2px)"></div>
<div class="t" style="left:1061.0px;top:546.6px;font-size:10px;color:#c2c2c2;filter:blur(2.6px);transform:scaleX(1.108);transform-origin:0 0">HR</div>
<div class="ab" style="left:1084.1px;top:565.9px;width:10.9px;height:10.8px;background:#2ab0c4"></div>
<div class="t" style="left:1098.7px;top:565.1px;font-size:10.5px;color:#333">78</div>
<div class="ab" style="left:1025.0px;top:567.4px;width:52px;height:8px;background:#e6e6e6;border-radius:3px;filter:blur(2px)"></div>
<div class="t" style="left:1025.0px;top:565.9px;font-size:10px;color:#c2c2c2;filter:blur(2.6px);transform:scaleX(1.088);transform-origin:0 0">Consultant</div>
<div class="ab" style="left:1084.1px;top:585.2px;width:9.5px;height:10.8px;background:#2ab0c4"></div>
<div class="t" style="left:1097.3px;top:584.4px;font-size:10.5px;color:#333">68</div>
<div class="ab" style="left:1025.0px;top:586.7px;width:52px;height:8px;background:#e6e6e6;border-radius:3px;filter:blur(2px)"></div>
<div class="t" style="left:1025.0px;top:585.2px;font-size:10px;color:#c2c2c2;filter:blur(2.6px);transform:scaleX(0.945);transform-origin:0 0">Relationship</div>
<div class="ab" style="left:1084.1px;top:604.5px;width:9.2px;height:10.8px;background:#2ab0c4"></div>
<div class="t" style="left:1097.0px;top:603.7px;font-size:10.5px;color:#333">66</div>
<div class="ab" style="left:1037.0px;top:606.0px;width:40px;height:8px;background:#e6e6e6;border-radius:3px;filter:blur(2px)"></div>
<div class="t" style="left:1037.0px;top:604.5px;font-size:10px;color:#c2c2c2;filter:blur(2.6px);transform:scaleX(0.972);transform-origin:0 0">Solutions</div>
<div class="ab" style="left:1084.1px;top:623.8px;width:8.8px;height:10.8px;background:#2ab0c4"></div>
<div class="t" style="left:1096.6px;top:623.0px;font-size:10.5px;color:#333">63</div>
<div class="ab" style="left:1058.0px;top:625.3px;width:19px;height:8px;background:#e6e6e6;border-radius:3px;filter:blur(2px)"></div>
<div class="t" style="left:1058.0px;top:623.8px;font-size:10px;color:#c2c2c2;filter:blur(2.6px);transform:scaleX(0.777);transform-origin:0 0">Team</div>
<div class="ab" style="left:1084.1px;top:643.1px;width:6.1px;height:10.8px;background:#2ab0c4"></div>
<div class="t" style="left:1093.9px;top:642.3px;font-size:10.5px;color:#333">44</div>
<div class="ab" style="left:1039.0px;top:644.6px;width:38px;height:8px;background:#e6e6e6;border-radius:3px;filter:blur(2px)"></div>
<div class="t" style="left:1039.0px;top:643.1px;font-size:10px;color:#c2c2c2;filter:blur(2.6px);transform:scaleX(0.795);transform-origin:0 0">Resources</div>
<div class="ab" style="left:1084.1px;top:662.4px;width:6.1px;height:10.8px;background:#2ab0c4"></div>
<div class="t" style="left:1093.9px;top:661.6px;font-size:10.5px;color:#333">44</div>
<div class="ab" style="left:1022.0px;top:663.9px;width:55px;height:8px;background:#e6e6e6;border-radius:3px;filter:blur(2px)"></div>
<div class="t" style="left:1022.0px;top:662.4px;font-size:10px;color:#c2c2c2;filter:blur(2.6px);transform:scaleX(0.942);transform-origin:0 0">Management</div>
<div class="ab" style="left:1380.4px;top:291px;width:1px;height:388px;background:#b0b0b0"></div>
<div class="ab" style="left:1381.2px;top:295.7px;width:169.4px;height:10.8px;background:#ea0019"></div>
<div class="t" style="left:1554.3px;top:294.9px;font-size:10.5px;color:#333">244</div>
<div class="ab" style="left:1351.0px;top:297.2px;width:23px;height:8px;background:#e6e6e6;border-radius:3px;filter:blur(2px)"></div>
<div class="t" style="left:1351.0px;top:295.7px;font-size:10px;color:#c2c2c2;filter:blur(2.6px);transform:scaleX(1.335);transform-origin:0 0">Pay</div>
<div class="ab" style="left:1381.2px;top:315.0px;width:136.1px;height:10.8px;background:#ea0019"></div>
<div class="t" style="left:1521.0px;top:314.2px;font-size:10.5px;color:#333">196</div>
<div class="ab" style="left:1337.0px;top:316.5px;width:37px;height:8px;background:#e6e6e6;border-radius:3px;filter:blur(2px)"></div>
<div class="t" style="left:1337.0px;top:315.0px;font-size:10px;color:#c2c2c2;filter:blur(2.6px);transform:scaleX(1.110);transform-origin:0 0">Service</div>
<div class="ab" style="left:1381.2px;top:334.3px;width:41.7px;height:10.8px;background:#ea0019"></div>
<div class="t" style="left:1426.6px;top:333.5px;font-size:10.5px;color:#333">60</div>
<div class="ab" style="left:1346.0px;top:335.8px;width:28px;height:8px;background:#e6e6e6;border-radius:3px;filter:blur(2px)"></div>
<div class="t" style="left:1346.0px;top:334.3px;font-size:10px;color:#c2c2c2;filter:blur(2.6px);transform:scaleX(1.326);transform-origin:0 0">Lack</div>
<div class="ab" style="left:1381.2px;top:353.6px;width:40.3px;height:10.8px;background:#ea0019"></div>
<div class="t" style="left:1425.2px;top:352.8px;font-size:10.5px;color:#333">58</div>
<div class="ab" style="left:1334.0px;top:355.1px;width:40px;height:8px;background:#e6e6e6;border-radius:3px;filter:blur(2px)"></div>
<div class="t" style="left:1334.0px;top:353.6px;font-size:10px;color:#c2c2c2;filter:blur(2.6px);transform:scaleX(1.200);transform-origin:0 0">System</div>
<div class="ab" style="left:1381.2px;top:372.9px;width:34.7px;height:10.8px;background:#ea0019"></div>
<div class="t" style="left:1419.6px;top:372.1px;font-size:10.5px;color:#333">50</div>
<div class="ab" style="left:1301.3px;top:374.4px;width:72.7px;height:8px;background:#e6e6e6;border-radius:3px;filter:blur(2px)"></div>
<div class="t" style="left:1301.3px;top:372.9px;font-size:10px;color:#c2c2c2;filter:blur(2.6px);transform:scaleX(1.047);transform-origin:0 0">Communication</div>
<div class="ab" style="left:1381.2px;top:392.2px;width:29.9px;height:10.8px;background:#ea0019"></div>
<div class="t" style="left:1414.8px;top:391.4px;font-size:10.5px;color:#333">43</div>
<div class="ab" style="left:1326.0px;top:393.7px;width:48px;height:8px;background:#e6e6e6;border-radius:3px;filter:blur(2px)"></div>
<div class="t" style="left:1326.0px;top:392.2px;font-size:10px;color:#c2c2c2;filter:blur(2.6px);transform:scaleX(1.066);transform-origin:0 0">Response</div>
<div class="ab" style="left:1381.2px;top:411.5px;width:25.0px;height:10.8px;background:#ea0019"></div>
<div class="t" style="left:1409.9px;top:410.7px;font-size:10.5px;color:#333">36</div>
<div class="ab" style="left:1329.0px;top:413.0px;width:45px;height:8px;background:#e6e6e6;border-radius:3px;filter:blur(2px)"></div>
<div class="t" style="left:1329.0px;top:411.5px;font-size:10px;color:#c2c2c2;filter:blur(2.6px);transform:scaleX(1.246);transform-origin:0 0">Process</div>
<div class="ab" style="left:1381.2px;top:430.8px;width:24.3px;height:10.8px;background:#ea0019"></div>
<div class="t" style="left:1409.2px;top:430.0px;font-size:10.5px;color:#333">35</div>
<div class="ab" style="left:1304.4px;top:432.3px;width:69.6px;height:8px;background:#e6e6e6;border-radius:3px;filter:blur(2px)"></div>
<div class="t" style="left:1304.4px;top:430.8px;font-size:10px;color:#c2c2c2;filter:blur(2.6px);transform:scaleX(0.876);transform-origin:0 0">Relationship Time</div>
<div class="ab" style="left:1381.2px;top:450.1px;width:22.9px;height:10.8px;background:#ea0019"></div>
<div class="t" style="left:1407.8px;top:449.3px;font-size:10.5px;color:#333">33</div>
<div class="ab" style="left:1335.3px;top:451.6px;width:38.7px;height:8px;background:#e6e6e6;border-radius:3px;filter:blur(2px)"></div>
<div class="t" style="left:1335.3px;top:450.1px;font-size:10px;color:#c2c2c2;filter:blur(2.6px);transform:scaleX(1.123);transform-origin:0 0">Contact</div>
<div class="ab" style="left:1381.2px;top:469.4px;width:22.2px;height:10.8px;background:#ea0019"></div>
<div class="t" style="left:1407.1px;top:468.6px;font-size:10.5px;color:#333">32</div>
<div class="ab" style="left:1318.4px;top:470.9px;width:55.6px;height:8px;background:#e6e6e6;border-radius:3px;filter:blur(2px)"></div>
<div class="t" style="left:1318.4px;top:469.4px;font-size:10px;color:#c2c2c2;filter:blur(2.6px);transform:scaleX(0.953);transform-origin:0 0">Management</div>
<div class="ab" style="left:1381.2px;top:488.7px;width:20.8px;height:10.8px;background:#ea0019"></div>
<div class="t" style="left:1405.7px;top:487.9px;font-size:10.5px;color:#333">30</div>
<div class="ab" style="left:1327.0px;top:490.2px;width:47px;height:8px;background:#e6e6e6;border-radius:3px;filter:blur(2px)"></div>
<div class="t" style="left:1327.0px;top:488.7px;font-size:10px;color:#c2c2c2;filter:blur(2.6px);transform:scaleX(0.983);transform-origin:0 0">Consultant</div>
<div class="ab" style="left:1381.2px;top:508.0px;width:20.8px;height:10.8px;background:#ea0019"></div>
<div class="t" style="left:1405.7px;top:507.2px;font-size:10.5px;color:#333">30</div>
<div class="ab" style="left:1333.0px;top:509.5px;width:41px;height:8px;background:#e6e6e6;border-radius:3px;filter:blur(2px)"></div>
<div class="t" style="left:1333.0px;top:508.0px;font-size:10px;color:#c2c2c2;filter:blur(2.6px);transform:scaleX(0.911);transform-origin:0 0">Response</div>
<div class="ab" style="left:1381.2px;top:527.3px;width:18.1px;height:10.8px;background:#ea0019"></div>
<div class="t" style="left:1403.0px;top:526.5px;font-size:10.5px;color:#333">26</div>
<div class="ab" style="left:1349.0px;top:528.8px;width:25px;height:8px;background:#e6e6e6;border-radius:3px;filter:blur(2px)"></div>
<div class="t" style="left:1349.0px;top:527.3px;font-size:10px;color:#c2c2c2;filter:blur(2.6px);transform:scaleX(1.144);transform-origin:0 0">Time</div>
<div class="ab" style="left:1381.2px;top:546.6px;width:17.4px;height:10.8px;background:#ea0019"></div>
<div class="t" style="left:1402.3px;top:545.8px;font-size:10.5px;color:#333">25</div>
<div class="ab" style="left:1318.0px;top:548.1px;width:56px;height:8px;background:#e6e6e6;border-radius:3px;filter:blur(2px)"></div>
<div class="t" style="left:1318.0px;top:546.6px;font-size:10px;color:#c2c2c2;filter:blur(2.6px);transform:scaleX(0.959);transform-origin:0 0">Management</div>
<div class="ab" style="left:1381.2px;top:565.9px;width:16.7px;height:10.8px;background:#ea0019"></div>
<div class="t" style="left:1401.6px;top:565.1px;font-size:10.5px;color:#333">24</div>
<div class="ab" style="left:1344.5px;top:567.4px;width:29.5px;height:8px;background:#e6e6e6;border-radius:3px;filter:blur(2px)"></div>
<div class="t" style="left:1344.5px;top:565.9px;font-size:10px;color:#c2c2c2;filter:blur(2.6px);transform:scaleX(0.842);transform-origin:0 0">Support</div>
<div class="ab" style="left:1381.2px;top:585.2px;width:13.9px;height:10.8px;background:#ea0019"></div>
<div class="t" style="left:1398.8px;top:584.4px;font-size:10.5px;color:#333">20</div>
<div class="ab" style="left:1346.0px;top:586.7px;width:28px;height:8px;background:#e6e6e6;border-radius:3px;filter:blur(2px)"></div>
<div class="t" style="left:1346.0px;top:585.2px;font-size:10px;color:#c2c2c2;filter:blur(2.6px);transform:scaleX(0.969);transform-origin:0 0">Issues</div>
<div class="ab" style="left:1381.2px;top:604.5px;width:11.8px;height:10.8px;background:#ea0019"></div>
<div class="t" style="left:1396.7px;top:603.7px;font-size:10.5px;color:#333">17</div>
<div class="ab" style="left:1331.0px;top:606.0px;width:43px;height:8px;background:#e6e6e6;border-radius:3px;filter:blur(2px)"></div>
<div class="t" style="left:1331.0px;top:604.5px;font-size:10px;color:#c2c2c2;filter:blur(2.6px);transform:scaleX(1.060);transform-origin:0 0">Recruiter</div>
<div class="ab" style="left:1381.2px;top:623.8px;width:9.7px;height:10.8px;background:#ea0019"></div>
<div class="t" style="left:1394.6px;top:623.0px;font-size:10.5px;color:#333">14</div>
<div class="ab" style="left:1346.0px;top:625.3px;width:28px;height:8px;background:#e6e6e6;border-radius:3px;filter:blur(2px)"></div>
<div class="t" style="left:1346.0px;top:623.8px;font-size:10px;color:#c2c2c2;filter:blur(2.6px);transform:scaleX(1.095);transform-origin:0 0">Delay</div>
<div class="ab" style="left:1381.2px;top:643.1px;width:9.7px;height:10.8px;background:#ea0019"></div>
<div class="t" style="left:1394.6px;top:642.3px;font-size:10.5px;color:#333">14</div>
<div class="ab" style="left:1330.0px;top:644.6px;width:44px;height:8px;background:#e6e6e6;border-radius:3px;filter:blur(2px)"></div>
<div class="t" style="left:1330.0px;top:643.1px;font-size:10px;color:#c2c2c2;filter:blur(2.6px);transform:scaleX(0.990);transform-origin:0 0">Payments</div>
<div class="ab" style="left:1381.2px;top:662.4px;width:9.7px;height:10.8px;background:#ea0019"></div>
<div class="t" style="left:1394.6px;top:661.6px;font-size:10.5px;color:#333">14</div>
<div class="ab" style="left:1344.5px;top:663.9px;width:29.5px;height:8px;background:#e6e6e6;border-radius:3px;filter:blur(2px)"></div>
<div class="t" style="left:1344.5px;top:662.4px;font-size:10px;color:#c2c2c2;filter:blur(2.6px);transform:scaleX(0.931);transform-origin:0 0">Invoice</div>
<div class="title" style="left:17px;top:407.6px">Response Sentiment</div>
<div class="ab" style="left:13px;top:430px;width:965px;height:256.5px;border:1px solid #dedede;background:#fff"></div>
<div class="ab" style="left:14px;top:431px;width:949.6px;height:45.5px;background:#eef5f8"></div>
<div class="ab" style="left:86px;top:431px;width:1px;height:241.5px;background:#e3e6e8"></div>
<div class="ab" style="left:103px;top:431px;width:1px;height:241.5px;background:#e3e6e8"></div>
<div class="ab" style="left:172.5px;top:431px;width:1px;height:241.5px;background:#e3e6e8"></div>
<div class="ab" style="left:277.5px;top:431px;width:1px;height:241.5px;background:#e3e6e8"></div>
<div class="ab" style="left:603px;top:431px;width:1px;height:241.5px;background:#e3e6e8"></div>
<div class="ab" style="left:674.8px;top:431px;width:1px;height:241.5px;background:#e3e6e8"></div>
<div class="ab" style="left:958px;top:431px;width:1px;height:241.5px;background:#e3e6e8"></div>
<div class="ab" style="left:752px;top:476.5px;width:1px;height:196.0px;background:#f7f7f7"></div>
<div class="ab" style="left:794px;top:476.5px;width:1px;height:196.0px;background:#f7f7f7"></div>
<div class="ab" style="left:894px;top:476.5px;width:1px;height:196.0px;background:#f7f7f7"></div>
<div class="ab" style="left:14px;top:476.5px;width:944px;height:1px;background:#e3e6e8"></div>
<div class="ab" style="left:14px;top:523.5px;width:944px;height:1px;background:#e8e8e8"></div>
<div class="ab" style="left:86.5px;top:477.0px;width:16.5px;height:46.5px;background:#47525e"></div>
<div class="ab" style="left:86.5px;top:524.5px;width:16.5px;height:147.2px;background:#2ab0c4"></div>
<div class="t" style="left:13px;width:68px;top:434.1px;font-size:9.6px;color:#333;text-align:center;line-height:12.9px;white-space:normal">Survey<br>Response<br>Date</div>
<svg class="ab" style="left:74px;top:450px" width="9" height="6"><path d="M0,0 L8.5,0 L4.25,5.5 Z" fill="#222"/></svg>
<div class="t" style="left:103px;width:70px;top:447.4px;font-size:9.6px;color:#333;text-align:center;line-height:12.9px;white-space:normal">Sentiment</div>
<div class="t" style="left:172.5px;width:105px;top:447.4px;font-size:9.6px;color:#333;text-align:center;line-height:12.9px;white-space:normal">Survey Question</div>
<div class="t" style="left:603px;width:72px;top:434.1px;font-size:9.6px;color:#333;text-align:center;line-height:12.9px;white-space:normal">Likelihood<br>to<br>Recommend</div>
<div class="ab" style="left:334.0px;top:449.5px;width:74.0px;height:8px;background:#d2dde0;border-radius:3px;filter:blur(2.0px)"></div>
<div class="t" style="left:334.0px;top:448.0px;font-size:10px;color:#a9b8bc;filter:blur(2.4px);transform:scaleX(0.938);transform-origin:0 0">Survey Response</div>
<div class="ab" style="left:509.0px;top:449.5px;width:48.0px;height:8px;background:#d2dde0;border-radius:3px;filter:blur(2.0px)"></div>
<div class="t" style="left:509.0px;top:448.0px;font-size:10px;color:#a9b8bc;filter:blur(2.4px);transform:scaleX(1.107);transform-origin:0 0">Comment</div>
<div class="ab" style="left:688.0px;top:443.0px;width:47.0px;height:8px;background:#d2dde0;border-radius:3px;filter:blur(2.0px)"></div>
<div class="t" style="left:688.0px;top:441.5px;font-size:10px;color:#a9b8bc;filter:blur(2.4px);transform:scaleX(0.854);transform-origin:0 0">Client Name</div>
<div class="ab" style="left:696.0px;top:455.0px;width:31.0px;height:8px;background:#d2dde0;border-radius:3px;filter:blur(2.0px)"></div>
<div class="t" style="left:696.0px;top:453.5px;font-size:10px;color:#a9b8bc;filter:blur(2.4px);transform:scaleX(1.115);transform-origin:0 0">Group</div>
<div class="ab" style="left:762.0px;top:443.0px;width:24.0px;height:8px;background:#d2dde0;border-radius:3px;filter:blur(2.0px)"></div>
<div class="t" style="left:762.0px;top:441.5px;font-size:10px;color:#a9b8bc;filter:blur(2.4px);transform:scaleX(1.079);transform-origin:0 0">Lead</div>
<div class="ab" style="left:762.0px;top:455.0px;width:24.0px;height:8px;background:#d2dde0;border-radius:3px;filter:blur(2.0px)"></div>
<div class="t" style="left:762.0px;top:453.5px;font-size:10px;color:#a9b8bc;filter:blur(2.4px);transform:scaleX(1.098);transform-origin:0 0">Time</div>
<div class="ab" style="left:805.0px;top:449.5px;width:80.0px;height:8px;background:#d2dde0;border-radius:3px;filter:blur(2.0px)"></div>
<div class="t" style="left:805.0px;top:448.0px;font-size:10px;color:#a9b8bc;filter:blur(2.4px);transform:scaleX(0.852);transform-origin:0 0">Account Relationship</div>
<div class="ab" style="left:915.0px;top:443.0px;width:30.0px;height:8px;background:#d2dde0;border-radius:3px;filter:blur(2.0px)"></div>
<div class="t" style="left:915.0px;top:441.5px;font-size:10px;color:#a9b8bc;filter:blur(2.4px);transform:scaleX(1.500);transform-origin:0 0">FSC</div>
<div class="ab" style="left:910.0px;top:455.0px;width:38.0px;height:8px;background:#d2dde0;border-radius:3px;filter:blur(2.0px)"></div>
<div class="t" style="left:910.0px;top:453.5px;font-size:10px;color:#a9b8bc;filter:blur(2.4px);transform:scaleX(1.199);transform-origin:0 0">Region</div>
<div class="t" style="left:21.6px;top:488.5px;font-size:9.6px;color:#333;line-height:12.6px;white-space:normal;letter-spacing:0.35px">07/07/2023<br>8:23:01 PM</div>
<div class="t" style="left:112.5px;top:495px;font-size:9.6px;color:#333;line-height:12.6px;white-space:normal">Neutral</div>
<div class="t" style="left:181.9px;top:482.5px;font-size:9.6px;color:#333;line-height:12.6px;white-space:normal;width:90px">How can we be a<br>better partner to<br>you?</div>
<div class="t" style="left:612px;top:495px;font-size:9.6px;color:#333;line-height:12.6px;white-space:normal">10</div>
<div class="t" style="left:21.6px;top:623px;font-size:9.6px;color:#333;line-height:12.6px;white-space:normal;letter-spacing:0.35px">07/07/2023<br>8:23:00 PM</div>
<div class="t" style="left:112.5px;top:629.5px;font-size:9.6px;color:#333;line-height:12.6px;white-space:normal">Positive</div>
<div class="t" style="left:181.9px;top:611px;font-size:9.6px;color:#333;line-height:12.6px;white-space:normal;width:90px">What are the<br>reasons for the<br>score(s) you just<br>gave us?</div>
<div class="t" style="left:612px;top:629.5px;font-size:9.6px;color:#333;line-height:12.6px;white-space:normal">10</div>
<div class="ab" style="left:287.0px;top:484.0px;width:108.0px;height:8px;background:#dedede;border-radius:3px;filter:blur(2.0px)"></div>
<div class="t" style="left:287.0px;top:482.5px;font-size:10px;color:#b3b3b3;filter:blur(2.4px);transform:scaleX(0.742);transform-origin:0 0">Always responsive and helpful to</div>
<div class="ab" style="left:287.0px;top:496.0px;width:165.0px;height:8px;background:#dedede;border-radius:3px;filter:blur(2.0px)"></div>
<div class="t" style="left:287.0px;top:494.5px;font-size:10px;color:#b3b3b3;filter:blur(2.4px);transform:scaleX(0.819);transform-origin:0 0">requests. The team is reliable and delivers on</div>
<div class="ab" style="left:287.0px;top:508.0px;width:133.0px;height:8px;background:#dedede;border-radius:3px;filter:blur(2.0px)"></div>
<div class="t" style="left:287.0px;top:506.5px;font-size:10px;color:#b3b3b3;filter:blur(2.4px);transform:scaleX(0.846);transform-origin:0 0">time every single time without issue</div>
<div class="ab" style="left:473.0px;top:491.0px;width:109.0px;height:8px;background:#dedede;border-radius:3px;filter:blur(2.0px)"></div>
<div class="t" style="left:473.0px;top:489.5px;font-size:10px;color:#b3b3b3;filter:blur(2.4px);transform:scaleX(0.868);transform-origin:0 0">Client Relationship Manager</div>
<div class="ab" style="left:473.0px;top:503.0px;width:24.0px;height:8px;background:#dedede;border-radius:3px;filter:blur(2.0px)"></div>
<div class="t" style="left:473.0px;top:501.5px;font-size:10px;color:#b3b3b3;filter:blur(2.4px);transform:scaleX(0.982);transform-origin:0 0">Team</div>
<div class="ab" style="left:683.0px;top:490.0px;width:39.0px;height:8px;background:#dedede;border-radius:3px;filter:blur(2.0px)"></div>
<div class="t" style="left:683.0px;top:488.5px;font-size:10px;color:#b3b3b3;filter:blur(2.4px);transform:scaleX(0.961);transform-origin:0 0">Business</div>
<div class="ab" style="left:683.0px;top:502.0px;width:22.0px;height:8px;background:#dedede;border-radius:3px;filter:blur(2.0px)"></div>
<div class="t" style="left:683.0px;top:500.5px;font-size:10px;color:#b3b3b3;filter:blur(2.4px);transform:scaleX(0.792);transform-origin:0 0">Group</div>
<div class="ab" style="left:762.0px;top:490.0px;width:18.0px;height:8px;background:#dedede;border-radius:3px;filter:blur(2.0px)"></div>
<div class="t" style="left:762.0px;top:488.5px;font-size:10px;color:#b3b3b3;filter:blur(2.4px);transform:scaleX(1.103);transform-origin:0 0">Yes</div>
<div class="ab" style="left:762.0px;top:502.0px;width:20.0px;height:8px;background:#dedede;border-radius:3px;filter:blur(2.0px)"></div>
<div class="t" style="left:762.0px;top:500.5px;font-size:10px;color:#b3b3b3;filter:blur(2.4px);transform:scaleX(0.782);transform-origin:0 0">Partly</div>
<div class="ab" style="left:805.0px;top:496.0px;width:27.0px;height:8px;background:#dedede;border-radius:3px;filter:blur(2.0px)"></div>
<div class="t" style="left:805.0px;top:494.5px;font-size:10px;color:#b3b3b3;filter:blur(2.4px);transform:scaleX(1.056);transform-origin:0 0">Client</div>
<div class="ab" style="left:905.0px;top:490.0px;width:25.0px;height:8px;background:#dedede;border-radius:3px;filter:blur(2.0px)"></div>
<div class="t" style="left:905.0px;top:488.5px;font-size:10px;color:#b3b3b3;filter:blur(2.4px);transform:scaleX(0.944);transform-origin:0 0">APAC</div>
<div class="ab" style="left:905.0px;top:502.0px;width:35.0px;height:8px;background:#dedede;border-radius:3px;filter:blur(2.0px)"></div>
<div class="t" style="left:905.0px;top:500.5px;font-size:10px;color:#b3b3b3;filter:blur(2.4px);transform:scaleX(0.777);transform-origin:0 0">Southeast</div>
<div class="ab" style="left:285px;top:530px;width:161px;height:135px;background:#f1f1f1;filter:blur(3px)"></div>
<div class="ab" style="left:287.0px;top:534.0px;width:147.0px;height:8px;background:#dcdcdc;border-radius:3px;filter:blur(2.0px)"></div>
<div class="t" style="left:287.0px;top:532.5px;font-size:10px;color:#b5b5b5;filter:blur(2.4px);transform:scaleX(0.788);transform-origin:0 0">We have been working with the team for a</div>
<div class="ab" style="left:287.0px;top:546.3px;width:156.8px;height:8px;background:#dcdcdc;border-radius:3px;filter:blur(2.0px)"></div>
<div class="t" style="left:287.0px;top:544.8px;font-size:10px;color:#b5b5b5;filter:blur(2.4px);transform:scaleX(0.815);transform-origin:0 0">number of years now and they have always</div>
<div class="ab" style="left:287.0px;top:558.6px;width:161.7px;height:8px;background:#dcdcdc;border-radius:3px;filter:blur(2.0px)"></div>
<div class="t" style="left:287.0px;top:557.1px;font-size:10px;color:#b5b5b5;filter:blur(2.4px);transform:scaleX(0.762);transform-origin:0 0">been very supportive. They respond quickly and</div>
<div class="ab" style="left:287.0px;top:570.9px;width:147.0px;height:8px;background:#dcdcdc;border-radius:3px;filter:blur(2.0px)"></div>
<div class="t" style="left:287.0px;top:569.4px;font-size:10px;color:#b5b5b5;filter:blur(2.4px);transform:scaleX(0.749);transform-origin:0 0">always follow up on any issues we have had</div>
<div class="ab" style="left:287.0px;top:583.2px;width:147.0px;height:8px;background:#dcdcdc;border-radius:3px;filter:blur(2.0px)"></div>
<div class="t" style="left:287.0px;top:581.7px;font-size:10px;color:#b5b5b5;filter:blur(2.4px);transform:scaleX(0.763);transform-origin:0 0">with our accounts. The consultants are very</div>
<div class="ab" style="left:287.0px;top:595.5px;width:151.9px;height:8px;background:#dcdcdc;border-radius:3px;filter:blur(2.0px)"></div>
<div class="t" style="left:287.0px;top:594.0px;font-size:10px;color:#b5b5b5;filter:blur(2.4px);transform:scaleX(0.755);transform-origin:0 0">knowledgeable and understand our business.</div>
<div class="ab" style="left:287.0px;top:607.8px;width:147.0px;height:8px;background:#dcdcdc;border-radius:3px;filter:blur(2.0px)"></div>
<div class="t" style="left:287.0px;top:606.3px;font-size:10px;color:#b5b5b5;filter:blur(2.4px);transform:scaleX(0.779);transform-origin:0 0">We appreciate the efforts made to improve</div>
<div class="ab" style="left:287.0px;top:620.1px;width:147.0px;height:8px;background:#dcdcdc;border-radius:3px;filter:blur(2.0px)"></div>
<div class="t" style="left:287.0px;top:618.6px;font-size:10px;color:#b5b5b5;filter:blur(2.4px);transform:scaleX(0.785);transform-origin:0 0">service levels over the past year and hope</div>
<div class="ab" style="left:287.0px;top:632.4px;width:151.9px;height:8px;background:#dcdcdc;border-radius:3px;filter:blur(2.0px)"></div>
<div class="t" style="left:287.0px;top:630.9px;font-size:10px;color:#b5b5b5;filter:blur(2.4px);transform:scaleX(0.821);transform-origin:0 0">this will continue going forward. Reporting</div>
<div class="ab" style="left:287.0px;top:644.7px;width:147.0px;height:8px;background:#dcdcdc;border-radius:3px;filter:blur(2.0px)"></div>
<div class="t" style="left:287.0px;top:643.2px;font-size:10px;color:#b5b5b5;filter:blur(2.4px);transform:scaleX(0.767);transform-origin:0 0">and communication are areas that could be</div>
<div class="ab" style="left:287.0px;top:657.0px;width:147.0px;height:8px;background:#dcdcdc;border-radius:3px;filter:blur(2.0px)"></div>
<div class="t" style="left:287.0px;top:655.5px;font-size:10px;color:#b5b5b5;filter:blur(2.4px);transform:scaleX(0.783);transform-origin:0 0">improved and we would like more insights.</div>
<div class="ab" style="left:284px;top:666px;width:170px;height:6.5px;overflow:hidden"><div class="t" style="left:3px;top:2.3px;font-size:9.6px;color:#222">could be evaluated in the future. It is</div></div>
<div class="ab" style="left:473.0px;top:625.0px;width:109.0px;height:8px;background:#dedede;border-radius:3px;filter:blur(2.0px)"></div>
<div class="t" style="left:473.0px;top:623.5px;font-size:10px;color:#b3b3b3;filter:blur(2.4px);transform:scaleX(0.868);transform-origin:0 0">Client Relationship Manager</div>
<div class="ab" style="left:473.0px;top:637.0px;width:24.0px;height:8px;background:#dedede;border-radius:3px;filter:blur(2.0px)"></div>
<div class="t" style="left:473.0px;top:635.5px;font-size:10px;color:#b3b3b3;filter:blur(2.4px);transform:scaleX(0.982);transform-origin:0 0">Team</div>
<div class="ab" style="left:683.0px;top:624.0px;width:39.0px;height:8px;background:#dedede;border-radius:3px;filter:blur(2.0px)"></div>
<div class="t" style="left:683.0px;top:622.5px;font-size:10px;color:#b3b3b3;filter:blur(2.4px);transform:scaleX(0.961);transform-origin:0 0">Business</div>
<div class="ab" style="left:683.0px;top:636.0px;width:22.0px;height:8px;background:#dedede;border-radius:3px;filter:blur(2.0px)"></div>
<div class="t" style="left:683.0px;top:634.5px;font-size:10px;color:#b3b3b3;filter:blur(2.4px);transform:scaleX(0.792);transform-origin:0 0">Group</div>
<div class="ab" style="left:762.0px;top:624.0px;width:18.0px;height:8px;background:#dedede;border-radius:3px;filter:blur(2.0px)"></div>
<div class="t" style="left:762.0px;top:622.5px;font-size:10px;color:#b3b3b3;filter:blur(2.4px);transform:scaleX(1.103);transform-origin:0 0">Yes</div>
<div class="ab" style="left:762.0px;top:636.0px;width:20.0px;height:8px;background:#dedede;border-radius:3px;filter:blur(2.0px)"></div>
<div class="t" style="left:762.0px;top:634.5px;font-size:10px;color:#b3b3b3;filter:blur(2.4px);transform:scaleX(0.782);transform-origin:0 0">Partly</div>
<div class="ab" style="left:805.0px;top:630.0px;width:27.0px;height:8px;background:#dedede;border-radius:3px;filter:blur(2.0px)"></div>
<div class="t" style="left:805.0px;top:628.5px;font-size:10px;color:#b3b3b3;filter:blur(2.4px);transform:scaleX(1.056);transform-origin:0 0">Client</div>
<div class="ab" style="left:905.0px;top:624.0px;width:25.0px;height:8px;background:#dedede;border-radius:3px;filter:blur(2.0px)"></div>
<div class="t" style="left:905.0px;top:622.5px;font-size:10px;color:#b3b3b3;filter:blur(2.4px);transform:scaleX(0.944);transform-origin:0 0">APAC</div>
<div class="ab" style="left:905.0px;top:636.0px;width:35.0px;height:8px;background:#dedede;border-radius:3px;filter:blur(2.0px)"></div>
<div class="t" style="left:905.0px;top:634.5px;font-size:10px;color:#b3b3b3;filter:blur(2.4px);transform:scaleX(0.777);transform-origin:0 0">Southeast</div>
<div class="ab" style="left:14px;top:672.5px;width:949.5px;height:13px;background:#f3f3f3"></div>
<div class="ab" style="left:27.7px;top:674px;width:699.6px;height:10.5px;background:#bdbdbd"></div>
<svg class="ab" style="left:17px;top:676px" width="6" height="7"><path d="M4.5,0 L4.5,7 L0.5,3.5 Z" fill="#999"/></svg>
<svg class="ab" style="left:954px;top:675.5px" width="6" height="8"><path d="M0.5,0 L0.5,8 L5,4 Z" fill="#222"/></svg>
<div class="ab" style="left:964px;top:477.5px;width:13px;height:195.5px;background:#f3f3f3"></div>
<div class="ab" style="left:965.7px;top:491px;width:10.3px;height:14.7px;background:#bdbdbd"></div>
<svg class="ab" style="left:966.5px;top:483px" width="8" height="5"><path d="M0,4.5 L8,4.5 L4,0.5 Z" fill="#999"/></svg>
<svg class="ab" style="left:966.5px;top:662px" width="8" height="5"><path d="M0,0.5 L8,0.5 L4,4.5 Z" fill="#222"/></svg>
<div class="ab" style="left:964px;top:431px;width:13px;height:46px;background:#fcfdfd"></div>
<div class="ab" style="left:963.6px;top:431px;width:1px;height:46px;background:#e3e6e8"></div>
<div class="ab" style="left:958px;top:476.5px;width:19px;height:1px;background:#e3e6e8"></div>
<div class="ab" style="left:964px;top:673px;width:13px;height:12.5px;background:#fafafa;border:1px solid #eee"></div>
<div class="t" style="left:667px;top:726px;font-size:9.6px;color:#555;color:#666">Sentiment</div>
<div class="ab" style="left:725px;top:726px;width:8.7px;height:8.7px;background:#aabcc1"></div>
<div class="t" style="left:739.5px;top:726px;font-size:9.6px;color:#555">Mixed</div>
<div class="ab" style="left:773.8px;top:726px;width:8.7px;height:8.7px;background:#ea0019"></div>
<div class="t" style="left:788px;top:726px;font-size:9.6px;color:#555">Negative</div>
<div class="ab" style="left:835px;top:726px;width:8.7px;height:8.7px;background:#47525e"></div>
<div class="t" style="left:849px;top:726px;font-size:9.6px;color:#555">Neutral</div>
<div class="ab" style="left:890px;top:726px;width:8.7px;height:8.7px;background:#2ab0c4"></div>
<div class="t" style="left:904.5px;top:726px;font-size:9.6px;color:#555">Positive</div>
</body></html>
